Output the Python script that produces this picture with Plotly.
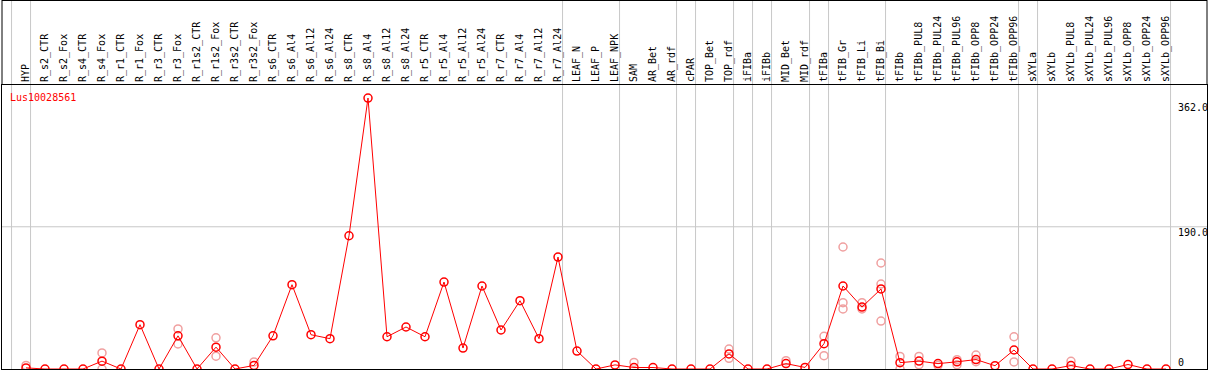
import plotly.graph_objects as go

categories = ["HYP", "R_s2_CTR", "R_s2_Fox", "R_s4_CTR", "R_s4_Fox", "R_r1_CTR", "R_r1_Fox",
              "R_r3_CTR", "R_r3_Fox", "R_r1s2_CTR", "R_r1s2_Fox", "R_r3s2_CTR", "R_r3s2_Fox",
              "R_s6_CTR", "R_s6_Al4", "R_s6_Al12", "R_s6_Al24", "R_s8_CTR", "R_s8_Al4",
              "R_s8_Al12", "R_s8_Al24", "R_r5_CTR", "R_r5_Al4", "R_r5_Al12", "R_r5_Al24",
              "R_r7_CTR", "R_r7_Al4", "R_r7_Al12", "R_r7_Al24", "LEAF_N", "LEAF_P", "LEAF_NPK",
              "SAM", "AR_Bet", "AR_rdf", "cPAR", "TOP_Bet", "TOP_rdf", "iFIBa", "iFIBb",
              "MID_Bet", "MID_rdf", "tFIBa", "tFIB_Gr", "tFIB_Li", "tFIB_Bi", "tFIBb",
              "tFIBb_PUL8", "tFIBb_PUL24", "tFIBb_PUL96", "tFIBb_OPP8", "tFIBb_OPP24",
              "tFIBb_OPP96", "sXYLa", "sXYLb", "sXYLb_PUL8", "sXYLb_PUL24", "sXYLb_PUL96",
              "sXYLb_OPP8", "sXYLb_OPP24", "sXYLb_OPP96"]

mean_values = [1.5, 0, 0, 0, 10.5, 0, 59.2, 0, 44.3, 0, 29.2, 0, 4.8,
               44.3, 112.6, 45.8, 40.5, 178.0, 362.0, 43.1, 56.1, 43.1, 116.2, 28.0, 110.9,
               52.1, 91.2, 40.5, 149.6, 24.0, 0, 5.5, 2.0, 2.0, 0, 0, 0, 20.2, 0, 0,
               7.2, 2.1, 33.8, 110.9, 82.8, 106.9, 8.5, 10.6, 7.2, 9.6, 12.6, 4.4,
               25.4, 0, 0, 4.6, 0, 0, 6.0, 0, 0]

rep_categories = ["HYP", "R_s4_Fox", "R_s4_Fox", "R_r3_Fox", "R_r3_Fox", "R_r1s2_Fox", "R_r1s2_Fox",
                  "R_r3s2_Fox", "SAM", "TOP_rdf", "TOP_rdf", "MID_Bet", "tFIBa", "tFIBa",
                  "tFIB_Gr", "tFIB_Gr", "tFIB_Gr", "tFIB_Li", "tFIB_Li",
                  "tFIB_Bi", "tFIB_Bi", "tFIB_Bi", "tFIBb", "tFIBb", "tFIBb_PUL8", "tFIBb_PUL8",
                  "tFIBb_PUL24", "tFIBb_PUL96", "tFIBb_PUL96", "tFIBb_OPP8", "tFIBb_OPP8",
                  "tFIBb_OPP96", "tFIBb_OPP96", "sXYLb_PUL8"]
rep_values = [4.8, 0, 21.4, 53.6, 33.4, 41.6, 17.1,
              9.4, 8.8, 26.7, 14.2, 11.1, 43.6, 17.8,
              163.0, 88.6, 80.2, 88.6, 80.2,
              141.6, 113.5, 64.1, 16.8, 0, 16.8, 5.7,
              4.8, 12.4, 5.7, 18.7, 9.7,
              43.1, 9.4, 10.2]

separators_after = ["", "HYP", "R_r7_Al24", "LEAF_NPK", "AR_rdf", "cPAR", "TOP_rdf", "iFIBa",
                    "iFIBb", "MID_rdf", "tFIBa", "tFIB_Bi", "tFIBb_OPP96", "sXYLa", "sXYLb_OPP96"]

y_ticks = [362.0, 190.0, 0]
y_tick_text = ["362.0", "190.0", "0"]

title_text = "Lus10028561"

RED = "#ff0000"
PINK = "#f0a0a0"
GRID = "#c8c8c8"
FONT = "DejaVu Sans Mono"

idx = {c: i for i, c in enumerate(categories)}
xs = list(range(len(categories)))
rep_x = [idx[c] for c in rep_categories]

fig = go.Figure()
fig.add_trace(go.Scatter(
    x=rep_x, y=rep_values, mode="markers",
    marker=dict(symbol="circle-open", size=8, color=PINK, line=dict(width=1.5, color=PINK)),
    hoverinfo="skip", showlegend=False))
fig.add_trace(go.Scatter(
    x=xs, y=mean_values, mode="lines+markers",
    line=dict(color=RED, width=1),
    marker=dict(symbol="circle-open", size=8, color=RED, line=dict(width=1.5, color=RED)),
    showlegend=False))

W, H = 1209, 370
ml, mr, mt, mb = 2, 2, 85, 1
pw = W - ml - mr
ph = H - mt - mb
step = 19.0
first_px = 26.0
xmin = -(first_px - ml) / step
xmax = xmin + pw / step
ymax = 379.4
top_paper = (H - mb) / ph  # paper y of figure top

shapes = []
shapes.append(dict(type="line", xref="paper", yref="y", x0=0, x1=1, y0=y_ticks[1], y1=y_ticks[1],
                   line=dict(color=GRID, width=1), layer="below"))
for s in separators_after:
    k = idx[s] if s else -1
    shapes.append(dict(type="line", xref="x", yref="paper", x0=k + 0.24, x1=k + 0.24,
                       y0=0, y1=top_paper, line=dict(color=GRID, width=1), layer="below"))
frame_top = (H - mb - 0.5) / ph
shapes.append(dict(type="line", xref="paper", yref="paper", x0=0, x1=1, y0=frame_top, y1=frame_top,
                   line=dict(color="black", width=1)))
shapes.append(dict(type="line", xref="paper", yref="paper", x0=0, x1=0, y0=1, y1=top_paper,
                   line=dict(color="black", width=1)))
shapes.append(dict(type="line", xref="paper", yref="paper", x0=1, x1=1, y0=1, y1=top_paper,
                   line=dict(color="black", width=1)))

annotations = []
annotations.append(dict(text=title_text, xref="paper", yref="paper", x=(8 - ml) / pw,
                        y=(H - mb - 97) / ph, xanchor="left", yanchor="middle", showarrow=False,
                        font=dict(family=FONT, size=10, color=RED)))
label_px = [107, 232, 362]
for t, py in zip(y_tick_text, label_px):
    annotations.append(dict(text=t, xref="paper", yref="paper", x=(1176 - ml) / pw,
                            y=(H - mb - py) / ph, xanchor="left", yanchor="middle",
                            showarrow=False, font=dict(family=FONT, size=10, color="black")))

fig.update_layout(
    width=W, height=H,
    margin=dict(l=ml, r=mr, t=mt, b=mb, pad=0),
    paper_bgcolor="white", plot_bgcolor="rgba(0,0,0,0)",
    shapes=shapes, annotations=annotations,
    xaxis=dict(range=[xmin, xmax], side="top", tickmode="array", tickvals=xs, ticktext=categories,
               tickangle=-90, tickfont=dict(family=FONT, size=10, color="black"),
               showgrid=False, zeroline=False, showline=True, linecolor="black", linewidth=1,
               mirror=True, ticks="", ticklabelstandoff=0),
    yaxis=dict(range=[0, ymax], showticklabels=False, showgrid=False, zeroline=False,
               showline=True, linecolor="black", linewidth=1, mirror=True, ticks=""),
)

fig.write_html(
    "out.html",
    config={"displayModeBar": False},
    post_script=("document.documentElement.style.margin='0';document.body.style.margin='0';"
                 "document.body.style.overflow='hidden';"
                 "document.documentElement.style.overflow='hidden';"),
)
